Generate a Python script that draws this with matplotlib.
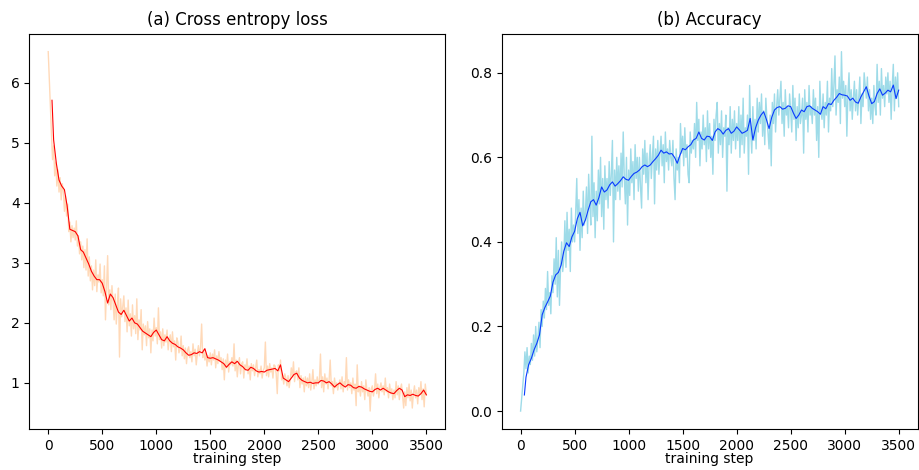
import numpy as np
import matplotlib
matplotlib.use("Agg")
import matplotlib.pyplot as plt

# --------------------------
# RAW VALUES (one point every 10 training steps)
# --------------------------
loss_raw = [
    6.52, 6.05, 5.62, 5.15, 4.72, 4.95, 4.45, 4.68, 4.28, 4.55,
    4.18, 4.42, 4.05, 4.32, 4.20, 3.86, 4.12, 3.78, 3.98, 3.52,
    3.68, 3.35, 3.62, 3.42, 3.58, 3.38, 3.70, 3.28, 3.45, 3.15,
    3.35, 3.05, 3.28, 2.92, 3.22, 2.88, 3.40, 2.78, 3.10, 2.70,
    2.95, 2.55, 2.88, 2.62, 3.05, 2.52, 2.80, 2.68, 2.98, 2.50,
    2.72, 2.45, 2.95, 2.05, 2.60, 3.12, 2.30, 2.55, 2.22, 2.62,
    2.35, 2.05, 2.48, 1.98, 2.30, 2.58, 1.43, 2.40, 2.10, 2.28,
    2.45, 2.02, 2.25, 1.85, 2.38, 1.95, 2.15, 1.78, 2.30, 1.90,
    2.12, 1.82, 2.40, 1.72, 2.05, 1.88, 2.22, 1.55, 1.98, 1.80,
    1.95, 1.62, 2.02, 1.75, 1.90, 1.50, 1.88, 1.70, 2.08, 1.78,
    1.92, 1.65, 2.25, 1.72, 1.85, 1.58, 1.90, 1.62, 1.80, 1.68,
    1.88, 1.55, 1.72, 1.80, 1.52, 1.85, 1.60, 1.70, 1.38, 1.75,
    1.68, 1.50, 1.55, 1.78, 1.45, 1.62, 1.40, 1.58, 1.32, 1.55,
    1.60, 1.42, 1.52, 1.35, 1.65, 1.45, 1.56, 1.30, 1.48, 1.62,
    1.45, 1.60, 1.98, 1.42, 1.55, 1.38, 1.50, 1.28, 1.45, 1.35,
    1.50, 1.30, 1.48, 1.38, 1.55, 1.25, 1.45, 1.32, 1.52, 1.36,
    1.42, 1.22, 1.40, 1.05, 1.38, 1.25, 1.48, 1.18, 1.35, 1.30,
    1.42, 1.28, 1.65, 1.20, 1.38, 1.10, 1.30, 1.42, 1.15, 1.32,
    1.35, 1.08, 1.30, 1.22, 1.40, 1.15, 1.28, 1.05, 1.32, 1.20,
    1.30, 1.12, 1.25, 1.38, 1.10, 1.22, 1.15, 1.28, 1.08, 1.20,
    1.25, 1.68, 1.12, 1.28, 1.10, 1.32, 1.18, 1.25, 1.08, 1.30,
    1.28, 1.15, 0.82, 1.30, 1.20, 1.38, 1.05, 1.12, 0.98, 1.15,
    1.08, 0.95, 1.12, 0.92, 1.05, 1.25, 1.10, 1.35, 1.02, 1.18,
    1.20, 1.05, 1.25, 0.92, 1.12, 0.98, 1.08, 0.85, 1.10, 0.95,
    1.08, 0.92, 1.15, 0.88, 1.02, 1.22, 0.90, 1.05, 0.95, 1.10,
    0.98, 1.05, 1.48, 0.92, 1.10, 0.85, 1.15, 0.98, 1.08, 0.90,
    1.05, 1.38, 0.95, 1.02, 0.82, 1.08, 0.92, 1.00, 0.88, 0.98,
    1.05, 0.90, 1.10, 0.85, 1.02, 0.95, 1.42, 0.88, 1.05, 0.92,
    1.00, 0.82, 1.08, 0.88, 0.98, 0.62, 1.30, 0.85, 0.95, 0.78,
    1.02, 0.85, 0.95, 0.72, 1.05, 0.88, 0.78, 0.92, 0.53, 0.90,
    0.95, 0.78, 0.88, 1.15, 0.82, 0.98, 0.75, 0.92, 1.00, 0.85,
    0.95, 0.80, 1.08, 0.85, 0.92, 0.75, 0.98, 0.82, 0.90, 0.72,
    0.88, 0.75, 1.02, 0.80, 0.95, 0.72, 0.90, 0.98, 0.78, 0.58,
    0.85, 0.62, 0.92, 0.75, 0.98, 0.70, 0.88, 0.58, 0.82, 0.95,
    0.75, 0.88, 0.65, 0.92, 0.80, 1.02, 0.72, 0.90, 0.60, 0.98,
    0.80,
]

acc_raw = [
    0.00, 0.03, 0.06, 0.09, 0.14, 0.10, 0.15, 0.09, 0.13, 0.11,
    0.16, 0.12, 0.18, 0.13, 0.20, 0.14, 0.17, 0.21, 0.15, 0.24,
    0.20, 0.26, 0.22, 0.29, 0.24, 0.33, 0.25, 0.28, 0.23, 0.32,
    0.28, 0.36, 0.30, 0.41, 0.27, 0.38, 0.25, 0.34, 0.40, 0.33,
    0.36, 0.45, 0.34, 0.47, 0.38, 0.43, 0.33, 0.48, 0.40, 0.44,
    0.40, 0.47, 0.55, 0.42, 0.50, 0.38, 0.48, 0.41, 0.52, 0.44,
    0.47, 0.53, 0.42, 0.56, 0.49, 0.44, 0.65, 0.46, 0.54, 0.41,
    0.52, 0.45, 0.57, 0.49, 0.60, 0.46, 0.55, 0.43, 0.58, 0.50,
    0.55, 0.48, 0.59, 0.51, 0.56, 0.64, 0.40, 0.57, 0.50, 0.60,
    0.52, 0.58, 0.50, 0.61, 0.53, 0.66, 0.55, 0.49, 0.60, 0.44,
    0.57, 0.51, 0.62, 0.54, 0.59, 0.50, 0.63, 0.55, 0.60, 0.52,
    0.60, 0.53, 0.48, 0.62, 0.56, 0.64, 0.54, 0.61, 0.50, 0.59,
    0.63, 0.55, 0.60, 0.65, 0.49, 0.62, 0.57, 0.64, 0.56, 0.61,
    0.65, 0.58, 0.63, 0.54, 0.66, 0.59, 0.62, 0.57, 0.64, 0.60,
    0.58, 0.64, 0.55, 0.50, 0.62, 0.57, 0.60, 0.54, 0.68, 0.61,
    0.65, 0.58, 0.67, 0.60, 0.63, 0.56, 0.54, 0.66, 0.61, 0.64,
    0.62, 0.68, 0.60, 0.73, 0.64, 0.69, 0.58, 0.66, 0.62, 0.70,
    0.63, 0.67, 0.59, 0.71, 0.62, 0.68, 0.60, 0.65, 0.56, 0.69,
    0.64, 0.70, 0.73, 0.61, 0.68, 0.63, 0.71, 0.60, 0.67, 0.65,
    0.70, 0.52, 0.67, 0.63, 0.72, 0.61, 0.69, 0.64, 0.71, 0.62,
    0.68, 0.64, 0.72, 0.60, 0.70, 0.63, 0.74, 0.61, 0.67, 0.65,
    0.70, 0.56, 0.77, 0.66, 0.61, 0.72, 0.64, 0.69, 0.62, 0.74,
    0.66, 0.73, 0.68, 0.75, 0.65, 0.71, 0.63, 0.74, 0.69, 0.66,
    0.62, 0.70, 0.58, 0.73, 0.68, 0.75, 0.66, 0.72, 0.76, 0.70,
    0.74, 0.78, 0.68, 0.73, 0.65, 0.76, 0.70, 0.72, 0.67, 0.75,
    0.71, 0.66, 0.77, 0.69, 0.74, 0.64, 0.72, 0.67, 0.75, 0.68,
    0.70, 0.74, 0.61, 0.76, 0.69, 0.73, 0.66, 0.77, 0.70, 0.72,
    0.68, 0.76, 0.70, 0.74, 0.64, 0.72, 0.60, 0.78, 0.71, 0.69,
    0.75, 0.67, 0.73, 0.70, 0.78, 0.66, 0.74, 0.71, 0.81, 0.72,
    0.77, 0.84, 0.70, 0.76, 0.73, 0.79, 0.68, 0.85, 0.74, 0.78,
    0.72, 0.77, 0.65, 0.75, 0.80, 0.71, 0.76, 0.69, 0.74, 0.78,
    0.71, 0.76, 0.70, 0.74, 0.79, 0.68, 0.75, 0.72, 0.80, 0.77,
    0.74, 0.79, 0.71, 0.76, 0.69, 0.74, 0.68, 0.77, 0.72, 0.70,
    0.82, 0.73, 0.78, 0.70, 0.81, 0.74, 0.77, 0.72, 0.79, 0.75,
    0.80, 0.73, 0.78, 0.69, 0.77, 0.82, 0.71, 0.79, 0.74, 0.80,
    0.72,
]

# --------------------------
# SMOOTHED VALUES (steps 35, 50, 75, then every 25 up to 3500)
# --------------------------
smooth_steps = [35, 50, 75] + list(range(100, 3501, 25))

loss_smooth = [
    5.71, 5.05, 4.66,
    4.38, 4.28, 4.22, 3.95,
    3.56, 3.54, 3.52, 3.45,
    3.22, 3.18, 3.08, 2.98,
    2.86, 2.78, 2.72, 2.72,
    2.66, 2.52, 2.33, 2.48,
    2.42, 2.30, 2.18, 2.14,
    2.21, 2.12, 2.03, 2.08,
    2.00, 1.98, 1.92, 1.86,
    1.83, 1.80, 1.77, 1.84,
    1.88, 1.80, 1.72, 1.70,
    1.77, 1.70, 1.66, 1.64,
    1.60, 1.58, 1.55, 1.50,
    1.46, 1.47, 1.50, 1.49,
    1.52, 1.50, 1.57, 1.42,
    1.41, 1.42, 1.40, 1.38,
    1.35, 1.32, 1.26, 1.31,
    1.35, 1.32, 1.36, 1.30,
    1.27, 1.22, 1.21, 1.26,
    1.24, 1.20, 1.18, 1.19,
    1.18, 1.21, 1.22, 1.23,
    1.24, 1.20, 1.30, 1.08,
    1.05, 1.02, 1.08, 1.14,
    1.16, 1.08, 1.04, 1.02,
    1.00, 1.01, 0.99, 1.00,
    1.00, 1.04, 1.03, 1.00,
    1.02, 0.98, 0.93, 0.97,
    1.00, 0.96, 0.93, 0.97,
    0.96, 0.92, 0.91, 0.94,
    0.93, 0.90, 0.88, 0.86,
    0.85, 0.89, 0.91, 0.88,
    0.91, 0.88, 0.85, 0.83,
    0.82, 0.87, 0.91, 0.88,
    0.77, 0.80, 0.79, 0.81,
    0.79, 0.78, 0.82, 0.88,
    0.80,
]

acc_smooth = [
    0.038, 0.080, 0.110,
    0.125, 0.145, 0.160, 0.180,
    0.228, 0.245, 0.258, 0.272,
    0.305, 0.322, 0.328, 0.345,
    0.378, 0.398, 0.389, 0.412,
    0.425, 0.455, 0.470, 0.438,
    0.452, 0.475, 0.495, 0.500,
    0.487, 0.505, 0.530, 0.518,
    0.523, 0.535, 0.542, 0.532,
    0.538, 0.545, 0.554, 0.548,
    0.546, 0.555, 0.562, 0.565,
    0.570, 0.578, 0.582, 0.578,
    0.582, 0.590, 0.597, 0.605,
    0.617, 0.610, 0.613, 0.608,
    0.609, 0.600, 0.586, 0.605,
    0.621, 0.618, 0.625, 0.630,
    0.641, 0.645, 0.660, 0.645,
    0.641, 0.650, 0.649, 0.640,
    0.660, 0.668, 0.664, 0.655,
    0.664, 0.668, 0.657, 0.662,
    0.672, 0.665, 0.657, 0.660,
    0.664, 0.692, 0.641, 0.670,
    0.688, 0.700, 0.708, 0.690,
    0.668, 0.695, 0.712, 0.718,
    0.720, 0.714, 0.716, 0.722,
    0.720, 0.705, 0.692, 0.700,
    0.712, 0.708, 0.720, 0.722,
    0.716, 0.712, 0.708, 0.702,
    0.720, 0.715, 0.727, 0.725,
    0.735, 0.742, 0.751, 0.748,
    0.747, 0.745, 0.735, 0.740,
    0.731, 0.728, 0.743, 0.755,
    0.767, 0.745, 0.727, 0.732,
    0.751, 0.762, 0.747, 0.752,
    0.759, 0.755, 0.771, 0.739,
    0.759,
]

raw_steps = np.arange(len(loss_raw)) * 10

# --------------------------
# PLOT
# --------------------------
fig = plt.figure(figsize=(9.19, 4.70), dpi=100)
ax1 = fig.add_axes([0.0319, 0.0872, 0.4526, 0.8411])
ax2 = fig.add_axes([0.5459, 0.0872, 0.4526, 0.8411])

ax1.plot(raw_steps, loss_raw, color='#ffd9b8', linewidth=1.0)
ax1.plot(smooth_steps, loss_smooth, color='red', linewidth=0.8)
ax1.set_title('(a) Cross entropy loss')
ax1.set_xlabel('training step', labelpad=-0.5)

ax2.plot(raw_steps, acc_raw, color='#9edbe8', linewidth=1.0)
ax2.plot(smooth_steps, acc_smooth, color='#0a3cff', linewidth=0.8)
ax2.set_title('(b) Accuracy')
ax2.set_xlabel('training step', labelpad=-0.5)

fig.savefig('out.png', dpi=100)
